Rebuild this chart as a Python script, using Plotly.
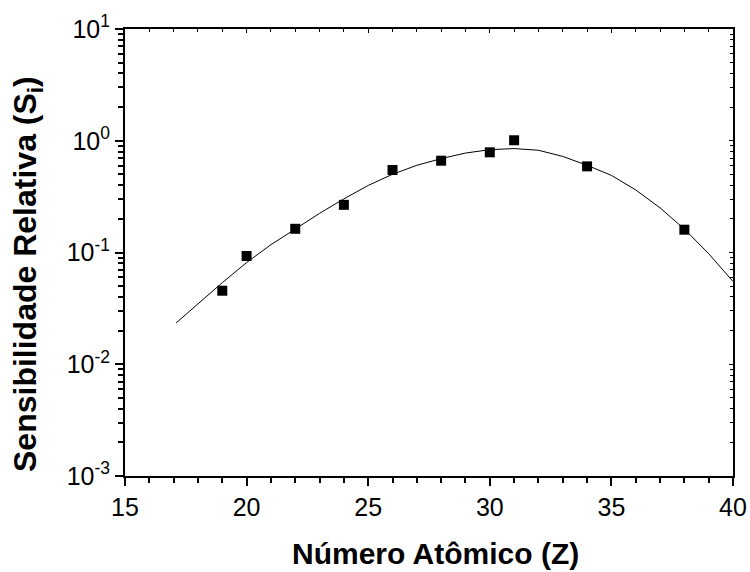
import plotly.graph_objects as go

# Experimental points
z_points = [19, 20, 22, 24, 26, 28, 30, 31, 34, 38]
s_points = [0.0455, 0.093, 0.163, 0.267, 0.547, 0.663, 0.788, 1.01, 0.59, 0.16]

# Fitted curve
z_curve = [17.1, 18, 19, 20, 21, 22, 23, 24, 25, 26, 27, 28, 29, 30, 31, 32, 33, 34, 35, 36, 37, 38, 39, 40]
s_curve = [0.0234, 0.0347, 0.0537, 0.0813, 0.1175, 0.162, 0.224, 0.302, 0.398, 0.501, 0.603, 0.692,
           0.776, 0.832, 0.851, 0.822, 0.724, 0.603, 0.490, 0.363, 0.251, 0.162, 0.0977, 0.0550]

y_tickvals = [1e-3, 1e-2, 1e-1, 1e0, 1e1]
y_ticktext = ["10<sup>-3</sup>", "10<sup>-2</sup>", "10<sup>-1</sup>", "10<sup>0</sup>", "10<sup>1</sup>"]
x_tickvals = [15, 20, 25, 30, 35, 40]

x_title = "<b>Número Atômico (Z)</b>"
y_title = "<b>Sensibilidade Relativa (S<sub>i</sub>)</b>"

minor_y = [m * 10 ** e for e in range(-3, 1) for m in range(2, 10)]
minor_x = [v for v in range(15, 41) if v % 5 != 0]

FONT = "Liberation Sans, Arial, sans-serif"

fig = go.Figure()
fig.add_trace(go.Scatter(x=z_curve, y=s_curve, mode="lines",
                         line=dict(color="black", width=1), showlegend=False))
fig.add_trace(go.Scatter(x=z_points, y=s_points, mode="markers",
                         marker=dict(symbol="square", size=10, color="black"), showlegend=False))
fig.add_trace(go.Scatter(x=[None], y=[None], xaxis="x2", yaxis="y2", showlegend=False))

fig.update_layout(
    width=750, height=572,
    margin=dict(l=125, r=17, t=29, b=96),
    paper_bgcolor="white", plot_bgcolor="white",
    font=dict(family=FONT, color="black"),
    xaxis=dict(
        range=[15, 40], tickmode="array", tickvals=x_tickvals, automargin=False,
        ticks="outside", ticklen=8, tickwidth=2, tickcolor="black",
        showline=True, linecolor="black", linewidth=2, showgrid=False, zeroline=False,
        tickfont=dict(size=25, family=FONT),
        minor=dict(tickmode="array", tickvals=minor_x, ticks="outside", ticklen=5,
                   tickwidth=2, tickcolor="black", showgrid=False),
    ),
    yaxis=dict(
        type="log", range=[-3, 1], tickmode="array", tickvals=y_tickvals, ticktext=y_ticktext,
        automargin=False,
        ticks="outside", ticklen=8, tickwidth=2, tickcolor="black",
        showline=True, linecolor="black", linewidth=2, showgrid=False, zeroline=False,
        tickfont=dict(size=25, family=FONT),
        minor=dict(tickmode="array", tickvals=minor_y, ticks="outside", ticklen=5,
                   tickwidth=2, tickcolor="black", showgrid=False),
    ),
    xaxis2=dict(
        overlaying="x", side="top", range=[15, 40], tickmode="array", tickvals=x_tickvals,
        automargin=False,
        ticks="inside", ticklen=4, tickwidth=1, tickcolor="black", showticklabels=False,
        showline=True, linecolor="black", linewidth=2, showgrid=False, zeroline=False,
        minor=dict(tickmode="array", tickvals=minor_x, ticks="inside", ticklen=3,
                   tickwidth=1, tickcolor="black", showgrid=False),
    ),
    yaxis2=dict(
        overlaying="y", side="right", type="log", range=[-3, 1], tickmode="array", tickvals=y_tickvals,
        automargin=False,
        ticks="inside", ticklen=4, tickwidth=1, tickcolor="black", showticklabels=False,
        showline=True, linecolor="black", linewidth=2, showgrid=False, zeroline=False,
        minor=dict(tickmode="array", tickvals=minor_y, ticks="inside", ticklen=3,
                   tickwidth=1, tickcolor="black", showgrid=False),
    ),
    annotations=[
        dict(text=x_title, xref="paper", yref="paper", x=0.5115, y=-0.1734,
             xanchor="center", yanchor="middle", showarrow=False,
             font=dict(size=30, family=FONT, color="black")),
        dict(text=y_title, xref="paper", yref="paper", x=-0.1595, y=0.452,
             xanchor="center", yanchor="middle", showarrow=False, textangle=-90,
             font=dict(size=32, family=FONT, color="black")),
    ],
)

fig.write_html("out.html")
